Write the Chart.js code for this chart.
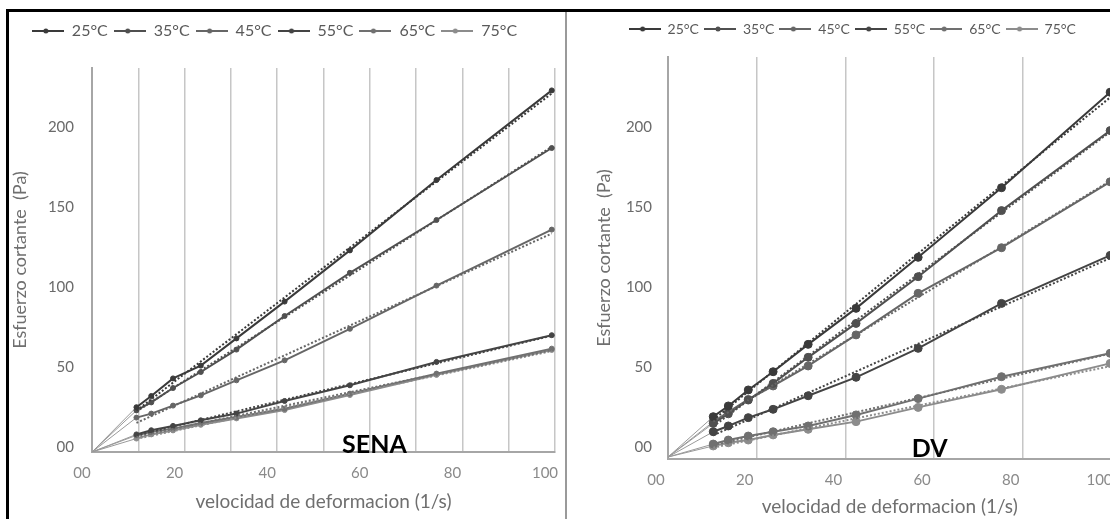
<!DOCTYPE html>
<html>
<head>
<meta charset="utf-8">
<script src="https://cdn.jsdelivr.net/npm/chart.js@4"></script>
<style>
  html, body { margin: 0; padding: 0; background: #fff; overflow: hidden; }
  body { width: 1110px; height: 519px; position: relative; }
  canvas { position: absolute; }
  #sena { left: 10px; top: 13px; }
  #dv { left: 568px; top: 13px; }
  .frame-top { position: absolute; left: 6px; top: 9px; width: 1104px; height: 3px; background: #000; }
  .frame-left { position: absolute; left: 6px; top: 9px; width: 3px; height: 510px; background: #000; }
  .divider { position: absolute; left: 565px; top: 12px; width: 2px; height: 507px; background: #9a9a9a; }
</style>
</head>
<body>
<div class="frame-top"></div>
<div class="frame-left"></div>
<div class="divider"></div>
<canvas id="sena" width="556" height="506"></canvas>
<canvas id="dv" width="552" height="506"></canvas>
<script>
const temps = ["25°C", "35°C", "45°C", "55°C", "65°C", "75°C"];

// SENA
const shearSena = [9.6, 12.8, 17.5, 23.5, 31.2, 41.6, 55.7, 74.4, 99.3];
const sena25 = [28, 35, 46, 54, 71, 94, 126, 170, 226];
const sena35 = [26, 31, 40, 50, 64, 85, 112, 145, 190];
const sena45 = [21.5, 24, 29, 35.4, 44.8, 57.3, 77, 104, 139];
const sena55 = [11, 13.6, 16.3, 19.8, 24, 31.9, 41.7, 56.3, 73];
const sena65 = [10.4, 12.5, 14.6, 18.1, 21.9, 27.1, 36.5, 49, 64.6];
const sena75 = [8.4, 11, 13.5, 17, 21, 26.2, 35.6, 48.2, 63.8];

// DV
const shearDv = [10.2, 13.6, 18.1, 23.7, 31.6, 42.4, 56.4, 75.2, 99.7];
const dv25 = [25.2, 31.9, 41.9, 53.3, 70.4, 92.9, 124.8, 168.3, 228];
const dv35 = [21, 27, 35.6, 46, 62.3, 83.5, 112.7, 154, 204];
const dv45 = [22, 28, 36, 44.4, 56.9, 76.3, 102.3, 130.8, 172];
const dv55 = [15.8, 19.4, 24.6, 29.8, 38.3, 49.8, 67.9, 96, 126];
const dv65 = [8.1, 10.6, 13.1, 15.8, 19.4, 26.3, 36.5, 50.2, 64.8];
const dv75 = [6.9, 8.9, 10.6, 13.8, 17.3, 22.1, 31, 42.3, 58.5];

// ticks
const senaXTicks = [0, 10, 20, 30, 40, 50, 60, 70, 80, 90, 100];
const senaXLabels = ["00", "", "20", "", "40", "", "60", "", "80", "", "100"];
const dvXTicks = [0, 20, 40, 60, 80, 100];
const dvXLabels = ["00", "20", "40", "60", "80", "100"];
const yTicks = [0, 50, 100, 150, 200];
const yLabels = ["00", "50", "100", "150", "200"];

const colors = ["#3a3a3a", "#505050", "#666666", "#444444", "#707070", "#8c8c8c"];
const FONT = "Lato";

const fitLine = (xs, ys) => {
  const n = xs.length;
  const mx = xs.reduce((a, b) => a + b, 0) / n;
  const my = ys.reduce((a, b) => a + b, 0) / n;
  let sxy = 0, sxx = 0;
  xs.forEach((x, i) => { sxy += (x - mx) * (ys[i] - my); sxx += (x - mx) ** 2; });
  const b = sxy / sxx, a = my - b * mx;
  return [{ x: xs[0], y: a + b * xs[0] }, { x: xs[n - 1], y: a + b * xs[n - 1] }];
};

const legendIcon = (color, r) => {
  const c = document.createElement("canvas");
  c.width = 32; c.height = 10;
  const g = c.getContext("2d");
  g.strokeStyle = color; g.lineWidth = 2;
  g.beginPath(); g.moveTo(0, 5); g.lineTo(32, 5); g.stroke();
  g.fillStyle = color;
  g.beginPath(); g.arc(14, 5, r, 0, Math.PI * 2); g.fill();
  return c;
};

const legendSpace = {
  id: "legendSpace",
  afterInit(chart, args, opts) {
    const fit = chart.legend.fit;
    chart.legend.fit = function () { fit.call(this); this.height = opts.height; };
  },
};

const panelLabel = {
  id: "panelLabel",
  afterDatasetsDraw(chart, args, opts) {
    const { ctx, scales } = chart;
    ctx.save();
    ctx.font = "bold 25px " + FONT;
    ctx.fillStyle = "#000";
    ctx.textAlign = "center";
    ctx.textBaseline = "alphabetic";
    ctx.fillText(opts.text, scales.x.getPixelForValue(opts.x), scales.y.getPixelForValue(0) + opts.dy);
    ctx.restore();
  },
};

// keep the plot area where the layout puts it (no auto padding from tick labels)
const noPad = (s) => { s.paddingLeft = 0; s.paddingRight = 0; s.paddingTop = 0; s.paddingBottom = 0; };

const makeChart = (el, cfg) => {
  const datasets = [];
  cfg.series.forEach((ys, i) => {
    datasets.push({
      label: temps[i],
      data: ys.map((y, j) => ({ x: cfg.xs[j], y })),
      showLine: true,
      borderColor: colors[i],
      backgroundColor: colors[i],
      borderWidth: 2,
      pointRadius: cfg.radius,
      pointBorderWidth: 1,
      pointBorderColor: colors[i],
      pointBackgroundColor: colors[i],
    });
  });
  cfg.series.forEach((ys, i) => {
    datasets.push({
      label: "trend " + temps[i],
      data: fitLine(cfg.xs, ys),
      showLine: true,
      borderColor: colors[i],
      borderWidth: 2,
      borderDash: [2, 2],
      pointRadius: 0,
      order: -1,
    });
  });
  cfg.series.forEach((ys, i) => {
    datasets.push({
      label: "origin " + temps[i],
      data: [{ x: 0, y: 0 }, { x: cfg.xs[0], y: ys[0] }],
      showLine: true,
      borderColor: "#9a9a9a",
      borderWidth: 1,
      pointRadius: 0,
    });
  });

  return new Chart(el, {
    type: "scatter",
    data: { datasets },
    plugins: [legendSpace, panelLabel],
    options: {
      responsive: false,
      animation: false,
      layout: { autoPadding: false, padding: cfg.padding },
      plugins: {
        legendSpace: { height: cfg.legendHeight },
        panelLabel: cfg.label,
        tooltip: { enabled: false },
        legend: {
          display: true,
          position: "top",
          labels: {
            usePointStyle: true,
            pointStyleWidth: 32,
            padding: cfg.legendPad,
            color: "#595959",
            font: { family: FONT, size: cfg.legendFont },
            filter: (item) => item.datasetIndex < 6,
            generateLabels: (chart) =>
              Chart.defaults.plugins.legend.labels.generateLabels(chart).map((l) => ({
                ...l,
                pointStyle: legendIcon(colors[l.datasetIndex] || "#000", 2.5),
              })),
          },
        },
      },
      scales: {
        x: {
          type: "linear",
          min: 0,
          max: 100,
          afterBuildTicks: (axis) => { axis.ticks = cfg.xTicks.map((v) => ({ value: v })); },
          afterFit: (s) => { s.height = cfg.xHeight; noPad(s); },
          ticks: {
            autoSkip: false,
            maxRotation: 0,
            padding: 12,
            labelOffset: cfg.xLabelOffset,
            color: "#8a8a8a",
            font: { family: FONT, size: 15 },
            callback: (v, i) => cfg.xLabels[i],
          },
          grid: { color: "#c6c6c6", lineWidth: 1.5, drawTicks: false },
          border: { display: true, color: "#a6a6a6", width: 2 },
          title: {
            display: true,
            text: "velocidad de deformacion (1/s)",
            color: "#6f6f6f",
            font: { family: FONT, size: 19 },
            padding: { top: 0, bottom: 0 },
          },
        },
        y: {
          type: "linear",
          min: cfg.yMin,
          max: cfg.yMax,
          afterBuildTicks: (axis) => { axis.ticks = yTicks.map((v) => ({ value: v })); },
          afterFit: (s) => { s.width = cfg.yWidth; noPad(s); },
          ticks: {
            padding: cfg.yPad,
            labelOffset: cfg.yLabelOffset,
            color: "#6a6a6a",
            font: { family: FONT, size: 15 },
            callback: (v, i) => yLabels[i],
          },
          grid: { display: false },
          border: { display: true, color: "#a6a6a6", width: 2 },
          title: {
            display: true,
            text: "Esfuerzo cortante  (Pa)",
            color: "#6f6f6f",
            font: { family: FONT, size: 18 },
            padding: { top: cfg.yTitlePad, bottom: 0 },
          },
        },
      },
    },
  });
};

makeChart(document.getElementById("sena"), {
  xs: shearSena,
  series: [sena25, sena35, sena45, sena55, sena65, sena75],
  radius: 2.5,
  padding: { left: -16, right: 11, top: 4, bottom: 6 },
  legendHeight: 51,
  legendFont: 16,
  legendPad: 6,
  xHeight: 61,
  xTicks: senaXTicks,
  xLabels: senaXLabels,
  xLabelOffset: -10,
  yMin: 0,
  yMax: 240,
  yWidth: 98,
  yPad: 10,
  yTitlePad: 15,
  yLabelOffset: -5,
  label: { text: "SENA", x: 61, dy: 1 },
});

makeChart(document.getElementById("dv"), {
  xs: shearDv,
  series: [dv25, dv35, dv45, dv55, dv65, dv75],
  radius: 4,
  padding: { left: 25, right: 8.5, top: 4, bottom: 1 },
  legendHeight: 40,
  legendFont: 14,
  legendPad: 5,
  xHeight: 59,
  xTicks: dvXTicks,
  xLabels: dvXLabels,
  xLabelOffset: -12,
  yMin: -1.25,
  yMax: 250,
  yWidth: 75,
  yPad: 8,
  yTitlePad: 0,
  yLabelOffset: -10,
  label: { text: "DV", x: 59, dy: 0 },
});
</script>
</body>
</html>
